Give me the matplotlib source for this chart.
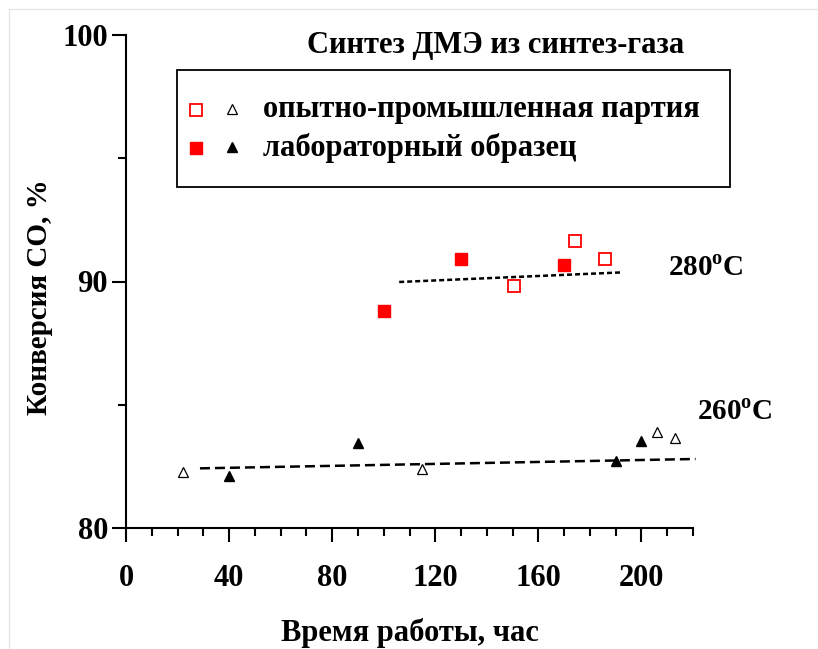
import numpy as np
import matplotlib
matplotlib.use('agg')
import matplotlib.pyplot as plt
from matplotlib.lines import Line2D
from matplotlib.patches import Rectangle

## Data: CO conversion vs. time on stream
# 280 C, pilot batch (open squares) and lab sample (filled squares)
t280_pilot = [150.7, 174.4, 185.9]
x280_pilot = [89.82, 91.66, 90.90]
t280_lab = [100, 130, 170]
x280_lab = [88.80, 90.90, 90.67]
# 260 C, pilot batch (open triangles) and lab sample (filled triangles)
t260_pilot = [22, 115, 206, 213]
x260_pilot = [82.28, 82.39, 83.91, 83.66]
t260_lab = [40, 90, 190, 200]
x260_lab = [82.10, 83.44, 82.72, 83.54]
# trend lines (end points)
trend280_t = [106, 192.5]
trend280_x = [89.98, 90.37]
trend260_t = [28.7, 221]
trend260_x = [82.42, 82.80]

title = 'Синтез ДМЭ из синтез-газа'
leg_labels = ['опытно-промышленная партия', 'лабораторный образец']

plt.rcParams['font.family'] = ['Liberation Serif', 'DejaVu Serif']
plt.rcParams['font.weight'] = 'bold'
plt.rcParams['axes.labelweight'] = 'bold'

W, H = 818, 649
def fx(px):
    return px / W
def fy(py):
    return 1 - py / H

fig = plt.figure(figsize=(8.18, 6.49), dpi=100)
ax = fig.add_axes([fx(126), fy(528), (693-126)/W, (528-35)/H])

red = '#ff0000'
sq_open = dict(marker='s', ms=8.3, mfc='white', mec=red, mew=1.3, ls='none')
sq_fill = dict(marker='s', ms=8.3, mfc=red, mec=red, ls='none')
tr_open = dict(marker='^', ms=7, mfc='white', mec='black', mew=0.9, ls='none')
tr_fill = dict(marker='^', ms=7, mfc='black', mec='black', ls='none')

ax.plot(t280_pilot, x280_pilot, **sq_open)
ax.plot(t280_lab, x280_lab, **sq_fill)
ax.plot(t260_pilot, x260_pilot, **tr_open)
ax.plot(t260_lab, x260_lab, **tr_fill)

ax.plot(trend280_t, trend280_x, color='black', lw=1.8, ls=(0, (2, 1.2)), clip_on=False)
ax.plot(trend260_t, trend260_x, color='black', lw=1.8, ls=(0, (4, 2)), clip_on=False)

ax.set_xlim(0, 220)
ax.set_ylim(80, 100)
ax.set_xticks(np.arange(0, 201, 40))
ax.set_xticks(np.arange(0, 221, 10), minor=True)
ax.set_yticks([80, 90, 100])
ax.set_yticks([85, 95], minor=True)
for s in ['top', 'right']:
    ax.spines[s].set_visible(False)
for s in ['left', 'bottom']:
    ax.spines[s].set_linewidth(1.5)
ax.tick_params(axis='both', which='major', length=10, width=1.5, labelsize=22)
ax.tick_params(axis='both', which='minor', length=6, width=1.5)
ax.tick_params(axis='x', which='major', pad=16)
ax.tick_params(axis='y', which='major', pad=3)

ax.set_xlabel('Время работы, час', fontsize=22, labelpad=18)
ax.set_ylabel('Конверсия СО, %', fontsize=21)
ax.yaxis.set_label_coords(-0.128, 0.469)

fig.text(fx(496), fy(46), title, fontsize=22, ha='center', va='center')

fig.text(fx(668), fy(268), '280$^\\mathregular{o}$C', fontsize=21, ha='left', va='center')
fig.text(fx(697), fy(412), '260$^\\mathregular{o}$C', fontsize=21, ha='left', va='center')

# legend box drawn by hand
fig.add_artist(Rectangle((fx(177), fy(187)), (730-177)/W, (187-70)/H,
                         transform=fig.transFigure, fill=False, ec='black', lw=1.3))
for row_y, (sq, tr), label in zip([110, 148], [(sq_open, tr_open), (sq_fill, tr_fill)], leg_labels):
    fig.add_artist(Line2D([fx(196)], [fy(row_y)], transform=fig.transFigure, **sq))
    fig.add_artist(Line2D([fx(232)], [fy(row_y - 1)], transform=fig.transFigure, **tr))
    fig.text(fx(263), fy(row_y), label, fontsize=22, ha='left', va='center')

# faint page border
fig.add_artist(Line2D([fx(9), fx(9)], [0, fy(9)], transform=fig.transFigure, color='#e6e6e6', lw=1))
fig.add_artist(Line2D([fx(9), 1], [fy(9), fy(9)], transform=fig.transFigure, color='#e6e6e6', lw=1))

fig.savefig('out.png', dpi=100)
